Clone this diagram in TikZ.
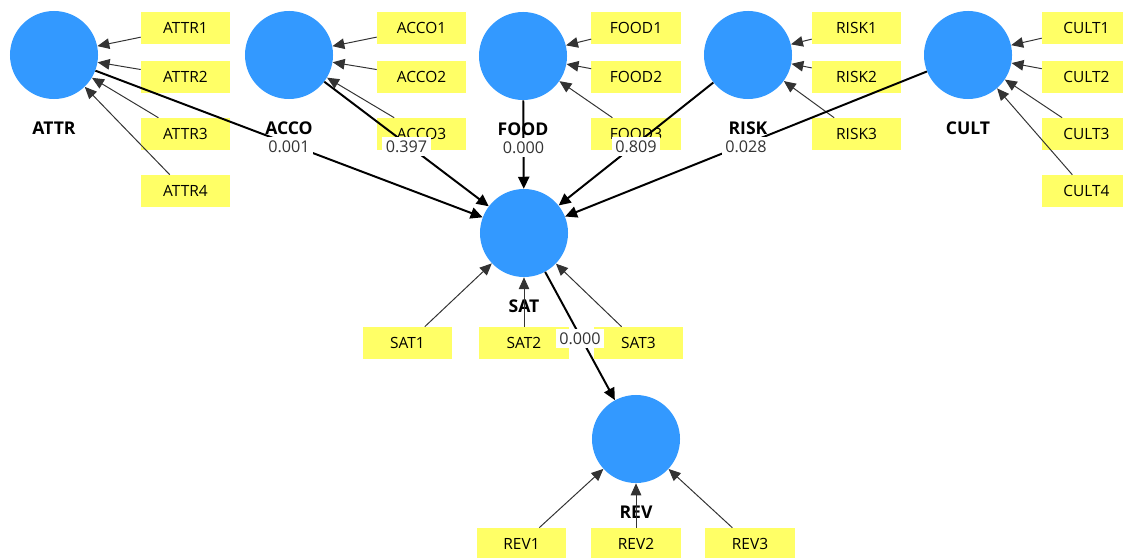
\documentclass[tikz,border=0pt]{standalone}
\usepackage{fontspec}
\setmainfont{Open Sans}
\usetikzlibrary{arrows.meta}
\definecolor{lvblue}{RGB}{51,153,255}
\definecolor{mvyellow}{RGB}{255,255,102}
\tikzset{
  latent/.style={circle, fill=lvblue, minimum size=2.2cm, inner sep=0pt},
  lvname/.style={font=\fontsize{12.5}{14}\selectfont\bfseries, inner sep=0pt, label distance=0.56cm},
  manifest/.style={rectangle, fill=mvyellow, minimum width=2.225cm, minimum height=0.8cm, inner sep=0pt, font=\fontsize{11}{13}\selectfont},
  load/.style={-{Triangle[length=8.5pt,width=7.5pt]}, draw=black!80, line width=0.7pt},
  relation/.style={-{Triangle[length=8.5pt,width=8pt]}, draw=black, line width=1.4pt},
  coef/.style={fill=white, inner sep=2.5pt, yshift=-2pt, font=\fontsize{11.5}{13}\selectfont, text=black!80}
}
\begin{document}
\begin{tikzpicture}[x=0.025cm, y=-0.025cm]
        \useasboundingbox (0,0) rectangle (1123,558);
        % latent variables
        \node[latent, label={[lvname]below:ATTR}] (ATTR) at (54,55) {};
        \node[latent, label={[lvname]below:ACCO}] (ACCO) at (289,55) {};
        \node[latent, label={[lvname]below:FOOD}] (FOOD) at (523,56) {};
        \node[latent, label={[lvname]below:RISK}] (RISK) at (748,55) {};
        \node[latent, label={[lvname]below:CULT}] (CULT) at (968,55) {};
        \node[latent, label={[lvname]below:SAT}] (SAT) at (524,233) {};
        \node[latent, label={[lvname]below:REV}] (REV) at (636,439) {};
        % indicators
        \node[manifest] (ATTR1) at (185.5,28) {ATTR1};
        \node[manifest] (ATTR2) at (185.5,77) {ATTR2};
        \node[manifest] (ATTR3) at (185.5,134) {ATTR3};
        \node[manifest] (ATTR4) at (185.5,191) {ATTR4};
        \node[manifest] (ACCO1) at (421.5,28) {ACCO1};
        \node[manifest] (ACCO2) at (421.5,77) {ACCO2};
        \node[manifest] (ACCO3) at (421.5,134) {ACCO3};
        \node[manifest] (FOOD1) at (636,28) {FOOD1};
        \node[manifest] (FOOD2) at (636,77) {FOOD2};
        \node[manifest] (FOOD3) at (636,134) {FOOD3};
        \node[manifest] (RISK1) at (856.5,28) {RISK1};
        \node[manifest] (RISK2) at (856.5,77) {RISK2};
        \node[manifest] (RISK3) at (856.5,134) {RISK3};
        \node[manifest] (CULT1) at (1086.5,28) {CULT1};
        \node[manifest] (CULT2) at (1086.5,77) {CULT2};
        \node[manifest] (CULT3) at (1086.5,134) {CULT3};
        \node[manifest] (CULT4) at (1086.5,191) {CULT4};
        \node[manifest] (SAT1) at (407.5,343) {SAT1};
        \node[manifest] (SAT2) at (524,343) {SAT2};
        \node[manifest] (SAT3) at (638.5,343) {SAT3};
        \node[manifest] (REV1) at (521.5,544) {REV1};
        \node[manifest] (REV2) at (636,544) {REV2};
        \node[manifest] (REV3) at (750,544) {REV3};
        % outer loadings
        \draw[load] (ATTR1) -- (ATTR);
        \draw[load] (ATTR2) -- (ATTR);
        \draw[load] (ATTR3) -- (ATTR);
        \draw[load] (ATTR4) -- (ATTR);
        \draw[load] (ACCO1) -- (ACCO);
        \draw[load] (ACCO2) -- (ACCO);
        \draw[load] (ACCO3) -- (ACCO);
        \draw[load] (FOOD1) -- (FOOD);
        \draw[load] (FOOD2) -- (FOOD);
        \draw[load] (FOOD3) -- (FOOD);
        \draw[load] (RISK1) -- (RISK);
        \draw[load] (RISK2) -- (RISK);
        \draw[load] (RISK3) -- (RISK);
        \draw[load] (CULT1) -- (CULT);
        \draw[load] (CULT2) -- (CULT);
        \draw[load] (CULT3) -- (CULT);
        \draw[load] (CULT4) -- (CULT);
        \draw[load] (SAT1) -- (SAT);
        \draw[load] (SAT2) -- (SAT);
        \draw[load] (SAT3) -- (SAT);
        \draw[load] (REV1) -- (REV);
        \draw[load] (REV2) -- (REV);
        \draw[load] (REV3) -- (REV);
        % inner model
        \draw[relation] (ATTR) -- node[coef] {0.001} (SAT);
        \draw[relation] (ACCO) -- node[coef] {0.397} (SAT);
        \draw[relation] (FOOD) -- node[coef] {0.000} (SAT);
        \draw[relation] (RISK) -- node[coef] {0.809} (SAT);
        \draw[relation] (CULT) -- node[coef] {0.028} (SAT);
        \draw[relation] (SAT) -- node[coef] {0.000} (REV);
    \end{tikzpicture}
\end{document}
